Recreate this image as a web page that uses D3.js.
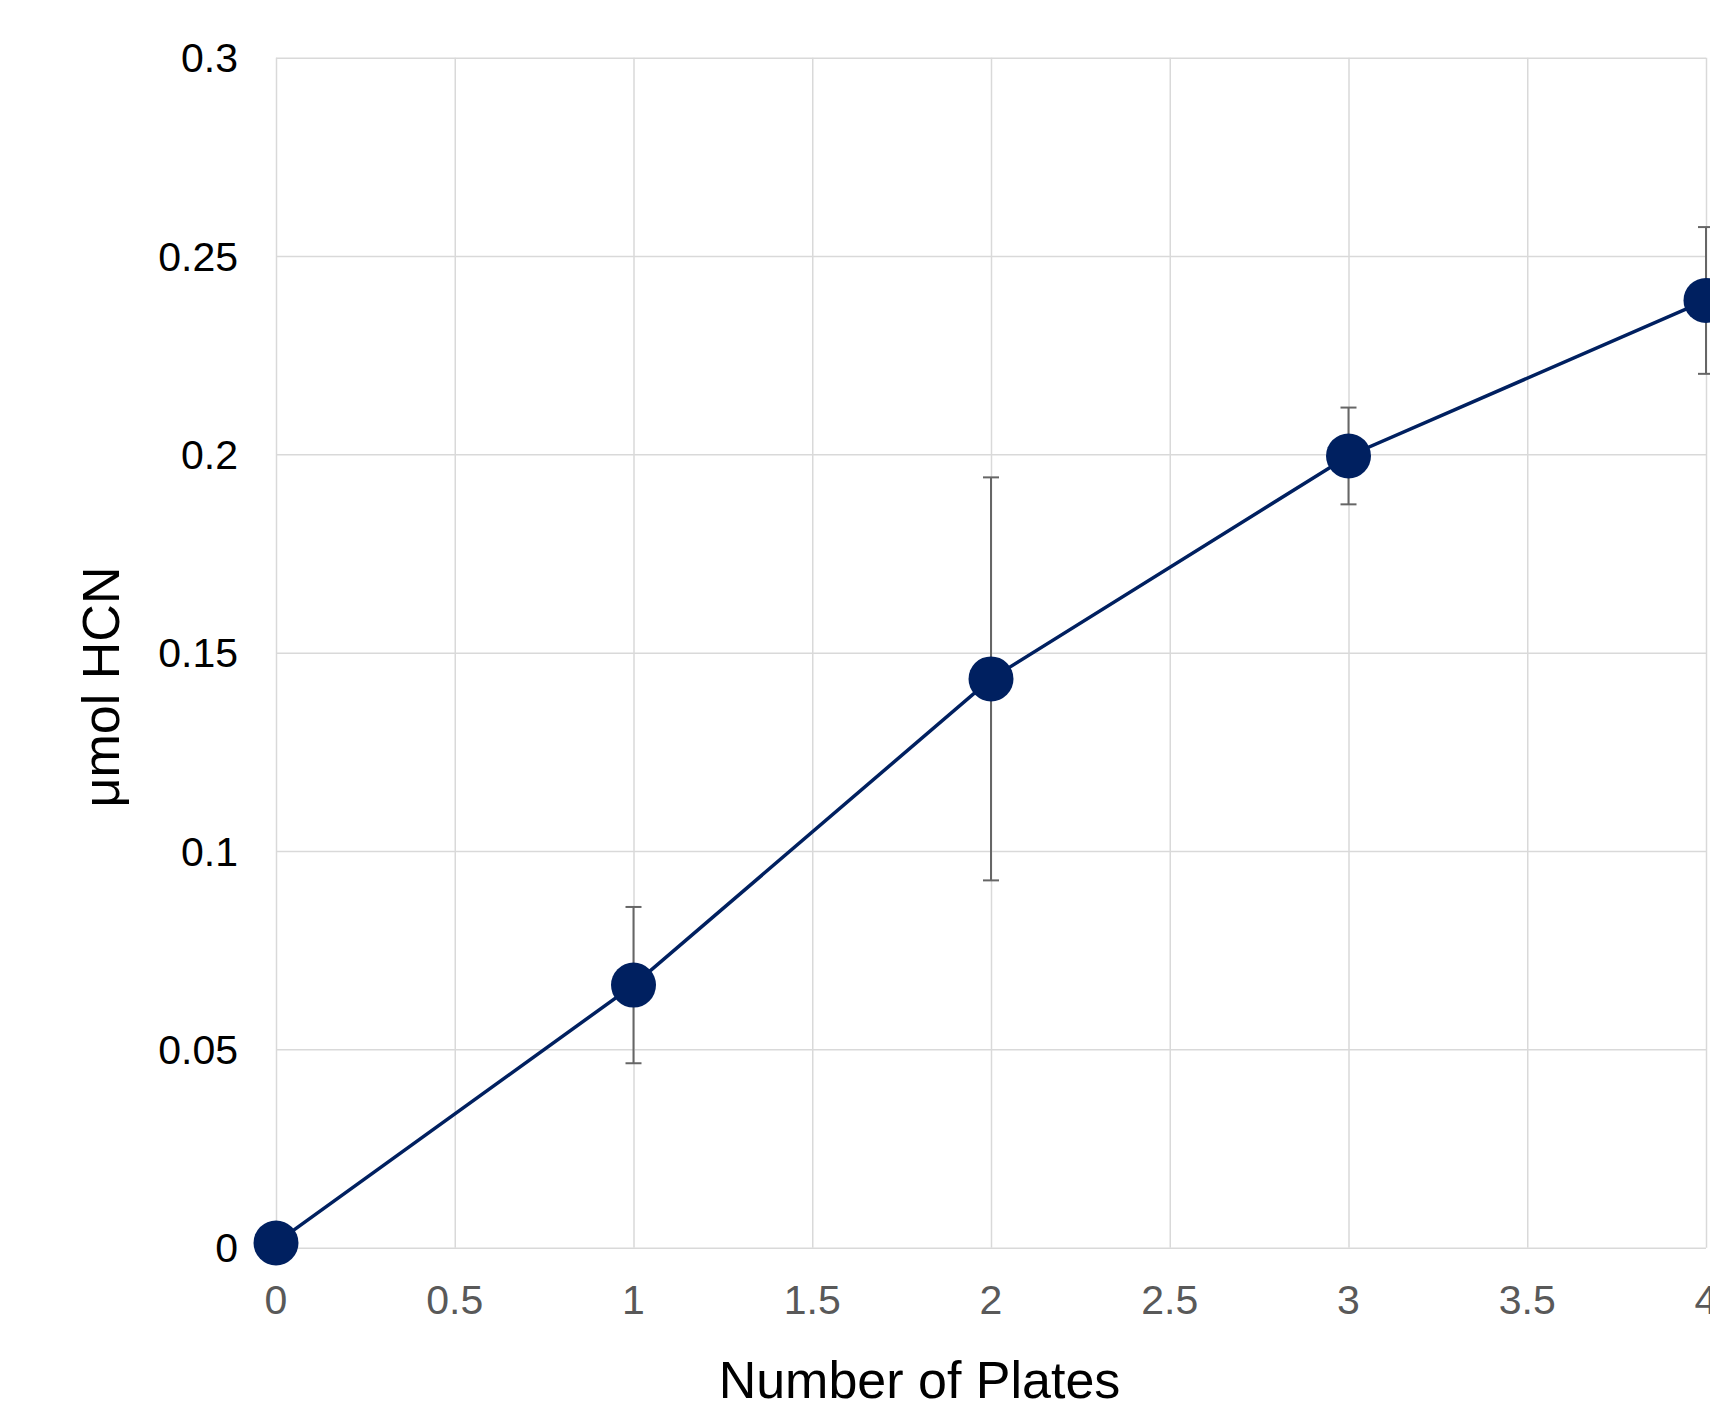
<!DOCTYPE html>
<html>
<head>
<meta charset="utf-8">
<script src="https://cdn.jsdelivr.net/npm/d3@7"></script>
<style>
  html, body { margin: 0; padding: 0; background: #fff; }
  svg { display: block; font-family: Arial, "Liberation Sans", sans-serif; }
  .grid line { stroke: #d9d9d9; stroke-width: 1.5; }
  .grid path { display: none; }
</style>
</head>
<body>
<svg class="main" width="1710" height="1403"></svg>
<script>
const plates = [0, 1, 2, 3, 4];
const hcn = [0.0012, 0.0662, 0.1434, 0.1996, 0.2388];
const hcnErr = [0, 0.0197, 0.0508, 0.0122, 0.0185];

const xTicks = [0, 0.5, 1, 1.5, 2, 2.5, 3, 3.5, 4];
const yTicks = [0, 0.05, 0.1, 0.15, 0.2, 0.25, 0.3];

const layout = { left: 276, right: 1706, top: 57.7, bottom: 1247.7 };

const svg = d3.select(".main");

const x = d3.scaleLinear().domain([0, 4]).range([layout.left, layout.right]);
const y = d3.scaleLinear().domain([0, 0.3]).range([layout.bottom, layout.top]);

// gridlines
svg.append("g")
  .attr("class", "grid")
  .attr("transform", `translate(0,${layout.bottom})`)
  .call(d3.axisBottom(x).tickValues(xTicks).tickSize(-(layout.bottom - layout.top)).tickFormat(""));

svg.append("g")
  .attr("class", "grid")
  .attr("transform", `translate(${layout.left},0)`)
  .call(d3.axisLeft(y).tickValues(yTicks).tickSize(-(layout.right - layout.left)).tickFormat(""));

// tick labels
svg.append("g")
  .selectAll("text")
  .data(yTicks)
  .join("text")
  .attr("x", 238)
  .attr("y", d => y(d))
  .attr("dy", "0.36em")
  .attr("text-anchor", "end")
  .style("font-size", "41px")
  .style("fill", "#000")
  .text(d => d3.format("")(d));

svg.append("g")
  .selectAll("text")
  .data(xTicks)
  .join("text")
  .attr("x", d => x(d))
  .attr("y", 1314)
  .attr("text-anchor", "middle")
  .style("font-size", "41px")
  .style("fill", "#595959")
  .text(d => d3.format("")(d));

// axis titles
svg.append("text")
  .attr("x", 919.5)
  .attr("y", 1398)
  .attr("text-anchor", "middle")
  .style("font-size", "52px")
  .style("fill", "#000")
  .text("Number of Plates");

svg.append("text")
  .attr("transform", "translate(119,687) rotate(-90)")
  .attr("text-anchor", "middle")
  .style("font-size", "52px")
  .style("fill", "#000")
  .text("μmol HCN");

const points = plates.map((p, i) => ({ x: p, y: hcn[i], err: hcnErr[i] }));

// error bars
const bars = svg.append("g")
  .selectAll("g")
  .data(points.filter(d => d.err > 0))
  .join("g")
  .style("stroke", "#666666")
  .style("stroke-width", 2);

bars.append("line")
  .attr("x1", d => x(d.x))
  .attr("x2", d => x(d.x))
  .attr("y1", d => y(d.y + d.err))
  .attr("y2", d => y(d.y - d.err));

bars.append("line")
  .attr("x1", d => x(d.x) - 8)
  .attr("x2", d => x(d.x) + 8)
  .attr("y1", d => y(d.y + d.err))
  .attr("y2", d => y(d.y + d.err));

bars.append("line")
  .attr("x1", d => x(d.x) - 8)
  .attr("x2", d => x(d.x) + 8)
  .attr("y1", d => y(d.y - d.err))
  .attr("y2", d => y(d.y - d.err));

// series line
svg.append("path")
  .datum(points)
  .attr("fill", "none")
  .attr("stroke", "#002060")
  .attr("stroke-width", 3.5)
  .attr("d", d3.line().x(d => x(d.x)).y(d => y(d.y)));

// markers
svg.append("g")
  .selectAll("circle")
  .data(points)
  .join("circle")
  .attr("cx", d => x(d.x))
  .attr("cy", d => y(d.y))
  .attr("r", 22.5)
  .attr("fill", "#002060");
</script>
</body>
</html>
